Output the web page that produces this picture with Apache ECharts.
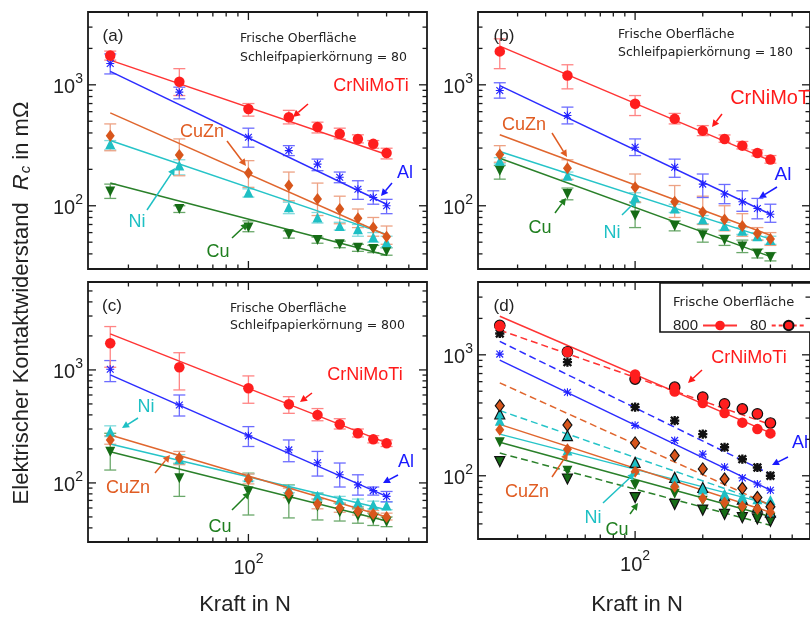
<!DOCTYPE html>
<html><head><meta charset="utf-8">
<script src="https://cdn.jsdelivr.net/npm/echarts@6/dist/echarts.min.js"></script>
<style>html,body{margin:0;padding:0;background:#fff}#c{width:810px;height:617px}</style>
</head><body><div id="c"></div>
<script>
// ---------------- DATA ----------------
const forces = [25, 50, 100, 150, 200, 250, 300, 350, 400];
const materials = ['Cu', 'Ni', 'CuZn', 'Al', 'CrNiMoTi'];

// Panel (a): Schleifpapierkörnung = 80
const a_CrNiMoTi     = [1750, 1060, 630, 540, 447, 393, 357, 325, 273];
const a_CrNiMoTi_hi  = [1900, 1360, 700, 615, 491, 438, 386, 346, 299];
const a_CrNiMoTi_lo  = [1600, 815, 551, 475, 400, 357, 331, 299, 244];
const a_CrNiMoTi_fit = [[25, 1600], [400, 265]];
const a_Al     = [1500, 870, 369, 286, 221, 172, 137, 117, 100];
const a_Al_hi  = [1800, 956, 438, 314, 243, 190, 161, 133, 113];
const a_Al_lo  = [1230, 766, 305, 260, 195, 155, 113, 103, 86];
const a_Al_fit = [[25, 1290], [400, 103]];
const a_CuZn     = [380, 263, 187, 147, 114, 94, 79, 66, 55.5];
const a_CuZn_hi  = [475, 357, 236, 190, 154, 120, 94, 80, 68];
const a_CuZn_lo  = [285, 177, 142, 110, 83, 71, 66, 56, 48];
const a_CuZn_fit = [[25, 586], [400, 57]];
const a_Ni     = [324, 215, 129, 97, 80, 68, 64, 55, 50];
const a_Ni_hi  = [346, 240, 138, 107, 88, 73, 70, 60, 56];
const a_Ni_lo  = [290, 180, 118, 86, 72, 63, 56, 50, 45];
const a_Ni_fit = [[25, 346], [400, 58]];
const a_Cu     = [131, 94, 66, 58, 52, 48, 45, 44, 42];
const a_Cu_hi  = [151, 100, 75, 62, 55, 51, 48, 47, 45];
const a_Cu_lo  = [115, 88, 61, 54, 49, 45, 42, 41, 39];
const a_Cu_fit = [[25, 154], [400, 39]];

// Panel (b): Schleifpapierkörnung = 180
const b_CrNiMoTi     = [1890, 1195, 697, 523, 418, 357, 314, 273, 241];
const b_CrNiMoTi_hi  = [2400, 1465, 815, 580, 460, 385, 340, 290, 260];
const b_CrNiMoTi_lo  = [1360, 926, 557, 475, 380, 335, 295, 258, 225];
const b_CrNiMoTi_fit = [[25, 2090], [400, 236]];
const b_Al     = [897, 557, 305, 208, 151, 125, 108, 95, 85];
const b_Al_hi  = [1040, 654, 357, 243, 183, 150, 133, 115, 103];
const b_Al_lo  = [776, 475, 260, 172, 117, 104, 90, 78, 73];
const b_Al_fit = [[25, 985], [400, 85]];
const b_CuZn     = [265, 204, 142, 108, 89, 77, 68, 59, 53];
const b_CuZn_hi  = [314, 240, 183, 147, 120, 100, 86, 66, 60];
const b_CuZn_lo  = [229, 165, 107, 80, 70, 62, 56, 52, 47];
const b_CuZn_fit = [[25, 386], [400, 57]];
const b_Ni     = [236, 177, 117, 95, 77, 68, 62, 56, 52];
const b_Ni_hi  = [250, 190, 128, 103, 83, 73, 66, 60, 56];
const b_Ni_lo  = [222, 165, 106, 88, 71, 63, 58, 52, 48];
const b_Ni_fit = [[25, 281], [400, 53]];
const b_Cu     = [195, 125, 83, 68, 57, 52, 46, 40, 37.5];
const b_Cu_hi  = [215, 140, 107, 75, 64, 57, 52, 44, 41];
const b_Cu_lo  = [166, 112, 66, 62, 50, 47, 41, 37, 35];
const b_Cu_fit = [[25, 247], [400, 38]];

// Panel (c): Schleifpapierkörnung = 800
const c_CrNiMoTi     = [1722, 1056, 689, 497, 400, 330, 275, 243, 224];
const c_CrNiMoTi_hi  = [2420, 1420, 885, 580, 455, 370, 300, 262, 240];
const c_CrNiMoTi_lo  = [1056, 665, 507, 413, 355, 300, 255, 226, 210];
const c_CrNiMoTi_fit = [[25, 2085], [400, 226]];
const c_Al     = [1014, 490, 261, 196, 151, 118, 96, 85.5, 76];
const c_Al_hi  = [1210, 600, 315, 240, 190, 150, 118, 92, 84];
const c_Al_lo  = [788, 391, 210, 154, 115, 92, 78, 78, 68];
const c_Al_fit = [[25, 903], [400, 76]];
const c_CuZn     = [240, 166, 108, 81, 65, 60, 56, 53, 50];
const c_CuZn_hi  = [262, 190, 120, 90, 72, 66, 61, 57, 54];
const c_CuZn_lo  = [220, 145, 98, 74, 59, 55, 52, 49, 47];
const c_CuZn_fit = [[25, 266], [400, 50]];
const c_Ni     = [285, 162, 112, 88, 77, 71, 67, 64, 63];
const c_Ni_hi  = [320, 178, 120, 95, 82, 76, 72, 69, 68];
const c_Ni_lo  = [257, 148, 104, 82, 72, 66, 62, 59, 58];
const c_Ni_fit = [[25, 221], [400, 58]];
const c_Cu     = [189, 110, 84, 71, 62, 55, 51, 48, 45];
const c_Cu_hi  = [275, 149, 122, 96, 80, 66, 59, 54, 50];
const c_Cu_lo  = [130, 76, 52, 49, 47, 46, 44, 42, 41];
const c_Cu_fit = [[25, 189], [400, 46]];

// axis ticks
const xMajorTicks = [100];
const xMinorTicks = [30, 40, 50, 60, 70, 80, 90, 200, 300, 400, 500];
const yMajorTicks = [100, 1000];
const yMinorTicks = [40, 50, 60, 70, 80, 90, 200, 300, 400, 500, 600, 700, 800, 900, 2000, 3000];
const yMinorTicksC = [40, 50, 60, 70, 80, 90, 200, 300, 400, 500, 600, 700, 800, 900, 2000, 3000, 4000, 5000];
const legendNames = ['800', '80'];

// ---------------- BUILD ----------------
const D = {
  a: {CrNiMoTi:[a_CrNiMoTi,a_CrNiMoTi_lo,a_CrNiMoTi_hi,a_CrNiMoTi_fit], Al:[a_Al,a_Al_lo,a_Al_hi,a_Al_fit], CuZn:[a_CuZn,a_CuZn_lo,a_CuZn_hi,a_CuZn_fit], Ni:[a_Ni,a_Ni_lo,a_Ni_hi,a_Ni_fit], Cu:[a_Cu,a_Cu_lo,a_Cu_hi,a_Cu_fit]},
  b: {CrNiMoTi:[b_CrNiMoTi,b_CrNiMoTi_lo,b_CrNiMoTi_hi,b_CrNiMoTi_fit], Al:[b_Al,b_Al_lo,b_Al_hi,b_Al_fit], CuZn:[b_CuZn,b_CuZn_lo,b_CuZn_hi,b_CuZn_fit], Ni:[b_Ni,b_Ni_lo,b_Ni_hi,b_Ni_fit], Cu:[b_Cu,b_Cu_lo,b_Cu_hi,b_Cu_fit]},
  c: {CrNiMoTi:[c_CrNiMoTi,c_CrNiMoTi_lo,c_CrNiMoTi_hi,c_CrNiMoTi_fit], Al:[c_Al,c_Al_lo,c_Al_hi,c_Al_fit], CuZn:[c_CuZn,c_CuZn_lo,c_CuZn_hi,c_CuZn_fit], Ni:[c_Ni,c_Ni_lo,c_Ni_hi,c_Ni_fit], Cu:[c_Cu,c_Cu_lo,c_Cu_hi,c_Cu_fit]}
};

const STAR = 'path://M8.6 0H11.4V20H8.6Z M0 8.6H20V11.4H0Z M0.5 2.5L2.5 0.5L19.5 17.5L17.5 19.5Z M17.5 0.5L19.5 2.5L2.5 19.5L0.5 17.5Z';
const ST = {
  CrNiMoTi: {color:'#ff1e1e', err:'#ff8484', line:'#ff3434', text:'#ff1a1a', symbol:'circle', size:10.5, rot:0},
  Al:       {color:'#2222ff', err:'#6c6cff', line:'#2c2cff', text:'#1a1aff', symbol:STAR, size:8, rot:0},
  CuZn:     {color:'#d8561c', err:'#eda284', line:'#e0662e', text:'#e05c22', symbol:'diamond', size:[9,12], rot:0},
  Ni:       {color:'#1ebfc4', err:'#80dadc', line:'#26c4c8', text:'#1ec0c4', symbol:'triangle', size:10, rot:0},
  Cu:       {color:'#166c16', err:'#6aa86a', line:'#2a802a', text:'#1e7e1e', symbol:'triangle', size:10, rot:180}
};
const FONT = '"Liberation Sans", Arial, sans-serif';
const SMALLFONT = '"DejaVu Sans", sans-serif';

const grids = [
  {left:88, top:12, width:339, height:257},
  {left:478, top:12, width:339, height:257},
  {left:88, top:282, width:339, height:260},
  {left:478, top:282, width:339, height:257}
].map(g => Object.assign(g, {show:true, borderColor:'#1a1a1a', borderWidth:1.8, backgroundColor:'transparent'}));

function logFmt(v) {
  const e = Math.log10(v);
  if (Math.abs(e - Math.round(e)) > 1e-6) return '';
  return '{b|10}{s|' + Math.round(e) + '}';
}
const labRich = {
  b: {fontSize:20, fontFamily:FONT, color:'#222', lineHeight:26, verticalAlign:'bottom'},
  s: {fontSize:14, fontFamily:FONT, color:'#222', lineHeight:14, verticalAlign:'top'}
};
const xAxes = [0,1,2,3].map(i => ({
  type:'log', logBase:10, min:20, max:600, gridIndex:i,
  axisLine:{show:false}, axisTick:{show:false}, splitLine:{show:false}, minorTick:{show:false},
  axisLabel:{show:i>=2, formatter:logFmt, rich:labRich, margin:10, showMinLabel:false, showMaxLabel:false}
}));
const yAxes = [0,1,2,3].map(i => ({
  type:'log', logBase:10, min:30, max:(i===2?6000:4000), gridIndex:i,
  axisLine:{show:false}, axisTick:{show:false}, splitLine:{show:false}, minorTick:{show:false},
  axisLabel:{show:true, formatter:logFmt, rich:labRich, margin:5, showMinLabel:false, showMaxLabel:false}
}));

const series = [];

// ticks (inward, mirrored on all four sides)
function tickSeries(gi, yMinor) {
  const data = [];
  xMajorTicks.forEach(v => data.push([v, 1]));
  xMinorTicks.forEach(v => data.push([v, 2]));
  yMajorTicks.forEach(v => data.push([v, 3]));
  yMinor.forEach(v => data.push([v, 4]));
  return {
    type:'custom', xAxisIndex:gi, yAxisIndex:gi, data, silent:true, z:1, clip:false,
    encode:{x:0, y:1},
    renderItem(params, api) {
      const cs = params.coordSys;
      const v = api.value(0), t = api.value(1);
      const st = {stroke:'#1a1a1a', lineWidth:1.3};
      if (t <= 2) {
        const len = t === 1 ? 8 : 4.5;
        const px = api.coord([v, 100])[0];
        const yb = cs.y + cs.height, yt = cs.y;
        return {type:'group', children:[
          {type:'line', shape:{x1:px, y1:yb, x2:px, y2:yb - len}, style:st},
          {type:'line', shape:{x1:px, y1:yt, x2:px, y2:yt + len}, style:st}
        ]};
      } else {
        const len = t === 3 ? 8 : 4.5;
        const py = api.coord([100, v])[1];
        const xl = cs.x, xr = cs.x + cs.width;
        return {type:'group', children:[
          {type:'line', shape:{x1:xl, y1:py, x2:xl + len, y2:py}, style:st},
          {type:'line', shape:{x1:xr, y1:py, x2:xr - len, y2:py}, style:st}
        ]};
      }
    }
  };
}
series.push(tickSeries(0, yMinorTicks), tickSeries(1, yMinorTicks), tickSeries(2, yMinorTicksC), tickSeries(3, yMinorTicks));

function errSeries(gi, lo, hi, color) {
  return {
    type:'custom', xAxisIndex:gi, yAxisIndex:gi, silent:true, z:2,
    encode:{x:0, y:[1,2]},
    data: forces.map((f,i) => [f, lo[i], hi[i]]),
    renderItem(params, api) {
      const x = api.value(0);
      const p1 = api.coord([x, api.value(1)]), p2 = api.coord([x, api.value(2)]);
      const w = 6, st = {stroke:color, lineWidth:1.3};
      return {type:'group', children:[
        {type:'line', shape:{x1:p1[0], y1:p1[1], x2:p2[0], y2:p2[1]}, style:st},
        {type:'line', shape:{x1:p1[0]-w, y1:p1[1], x2:p1[0]+w, y2:p1[1]}, style:st},
        {type:'line', shape:{x1:p2[0]-w, y1:p2[1], x2:p2[0]+w, y2:p2[1]}, style:st}
      ]};
    }
  };
}
function fitSeries(gi, fit, color, dashed) {
  return {type:'line', xAxisIndex:gi, yAxisIndex:gi, data:fit, symbol:'none', silent:true, z:3,
    lineStyle:{color, width:1.5, type: dashed ? [7,4] : 'solid'}};
}
function markSeries(gi, vals, s, outlined, colorOverride) {
  return {type:'scatter', xAxisIndex:gi, yAxisIndex:gi, silent:true, z:4,
    data: forces.map((f,i) => [f, vals[i]]),
    symbol:s.symbol, symbolSize:s.size, symbolRotate:s.rot,
    itemStyle:{color: colorOverride || s.color, borderColor: outlined ? '#111' : 'transparent', borderWidth: outlined ? 1.2 : 0, opacity:1}};
}

['a','b','c'].forEach((p, gi) => {
  materials.forEach(m => {
    const [v, lo, hi, fit] = D[p][m];
    series.push(errSeries(gi, lo, hi, ST[m].err));
    series.push(fitSeries(gi, fit, ST[m].line, false));
    series.push(markSeries(gi, v, ST[m], false));
  });
});
// panel (d): 800 (solid, from c) and 80 (dashed, from a)
materials.forEach(m => {
  series.push(fitSeries(3, D.c[m][3], ST[m].line, false));
  series.push(fitSeries(3, D.a[m][3], ST[m].line, true));
});
materials.forEach(m => {
  series.push(markSeries(3, D.a[m][0], ST[m], true, m === 'Al' ? '#111' : null));
  series.push(markSeries(3, D.c[m][0], ST[m], false));
});
// legend carriers
series.push({type:'line', name:legendNames[0], xAxisIndex:3, yAxisIndex:3, data:[], symbol:'circle', symbolSize:10,
  itemStyle:{color:ST.CrNiMoTi.color}, lineStyle:{color:ST.CrNiMoTi.line, width:1.6}});
series.push({type:'line', name:legendNames[1], xAxisIndex:3, yAxisIndex:3, data:[], symbol:'circle', symbolSize:10,
  itemStyle:{color:ST.CrNiMoTi.color, borderColor:'#111', borderWidth:1.2}, lineStyle:{color:ST.CrNiMoTi.line, width:1.6, type:[4,3]}});

// ---------------- ANNOTATIONS ----------------
const G = [];
function txt(t, x, y, color, size, align, fam) {
  G.push({type:'text', x, y, z:100, silent:true,
    style:{text:t, fill:color, font: size + 'px ' + (fam || FONT), align: align || 'center', verticalAlign:'middle'}});
}
function arrow(x1, y1, x2, y2, color) {
  const a = Math.atan2(y2 - y1, x2 - x1), L = 7, W = 3.6;
  const bx = x2 - L * Math.cos(a), by = y2 - L * Math.sin(a);
  const nx = -Math.sin(a) * W, ny = Math.cos(a) * W;
  G.push({type:'line', z:100, silent:true, shape:{x1, y1, x2:bx, y2:by}, style:{stroke:color, lineWidth:1.5}});
  G.push({type:'polygon', z:100, silent:true, shape:{points:[[x2,y2],[bx+nx,by+ny],[bx-nx,by-ny]]}, style:{fill:color}});
}
function label(m, tx, ty, ax1, ay1, ax2, ay2, size) {
  txt(m, tx, ty, ST[m].text, size || 18);
  arrow(ax1, ay1, ax2, ay2, ST[m].text);
}
// (a)
txt('(a)', 113, 36, '#222', 17);
txt('Frische Oberfläche', 240, 39, '#222', 12.5, 'left', SMALLFONT);
txt('Schleifpapierkörnung = 80', 240, 58, '#222', 12.5, 'left', SMALLFONT);
label('CrNiMoTi', 371, 86, 308, 104, 293, 117);
label('CuZn', 202, 132, 227, 141, 246, 166);
label('Ni', 137, 222, 147, 210, 175, 168);
label('Cu', 218, 252, 232, 238, 248, 223);
label('Al', 405, 173, 392, 183, 381, 196);
// (b)
txt('(b)', 504, 36, '#222', 17);
txt('Frische Oberfläche', 618, 35, '#222', 12.5, 'left', SMALLFONT);
txt('Schleifpapierkörnung = 180', 618, 53, '#222', 12.5, 'left', SMALLFONT);
label('CrNiMoTi', 772, 98, 722, 114, 712, 127, 20);
label('Al', 783, 175, 777, 187, 759, 198, 19);
label('CuZn', 524, 125, 552, 133, 567, 157);
label('Cu', 540, 228, 555, 213, 566, 198);
label('Ni', 612, 233, 622, 215, 637, 200);
// (c)
txt('(c)', 112, 306, '#222', 17);
txt('Frische Oberfläche', 230, 309, '#222', 12.5, 'left', SMALLFONT);
txt('Schleifpapierkörnung = 800', 230, 326, '#222', 12.5, 'left', SMALLFONT);
label('CrNiMoTi', 365, 375, 312, 393, 300, 402);
label('Al', 406, 462, 398, 475, 383, 483);
label('Ni', 146, 407, 138, 418, 122, 428);
label('CuZn', 128, 488, 155, 473, 170, 455);
label('Cu', 220, 527, 232, 510, 250, 492);
// (d)
txt('(d)', 504, 306, '#222', 17);
label('CrNiMoTi', 749, 358, 702, 370, 688, 383);
label('Al', 800, 443, 788, 457, 772, 465);
label('CuZn', 527, 492, 552, 477, 568, 453);
label('Ni', 593, 518, 603, 503, 635, 473);
label('Cu', 617, 530, 630, 514, 638, 503);
// legend box
G.push({type:'rect', z:0, silent:true, shape:{x:660, y:283, width:170, height:49}, style:{fill:'#fff', stroke:'#111', lineWidth:1.6}});
txt('Frische Oberfläche', 673, 303, '#222', 13, 'left', SMALLFONT);
// axis titles
G.push({type:'text', x:22, y:303, rotation:Math.PI/2, z:100, silent:true,
  style:{text:'Elektrischer Kontaktwiderstand  {i|R}{sub|c} in mΩ', font:'22px ' + FONT, fill:'#222', align:'center', verticalAlign:'middle',
    rich:{i:{fontStyle:'italic', fontSize:22, fontFamily:FONT, fill:'#222', color:'#222'}, sub:{fontStyle:'italic', fontSize:15, fontFamily:FONT, color:'#222', verticalAlign:'bottom', padding:[0,0,0,1]}}}});
txt('Kraft in N', 245, 605, '#222', 22);
txt('Kraft in N', 637, 605, '#222', 22);

const chart = echarts.init(document.getElementById('c'), null, {renderer:'canvas'});
chart.setOption({
  animation:false,
  backgroundColor:'#fff',
  grid:grids, xAxis:xAxes, yAxis:yAxes, series,
  legend:{data:legendNames, left:668, top:313, align:'right', orient:'horizontal', itemWidth:34, itemHeight:12, itemGap:12,
    selectedMode:false, textStyle:{fontSize:15, color:'#222', fontFamily:FONT}, z:10},
  graphic:G
});
</script></body></html>
